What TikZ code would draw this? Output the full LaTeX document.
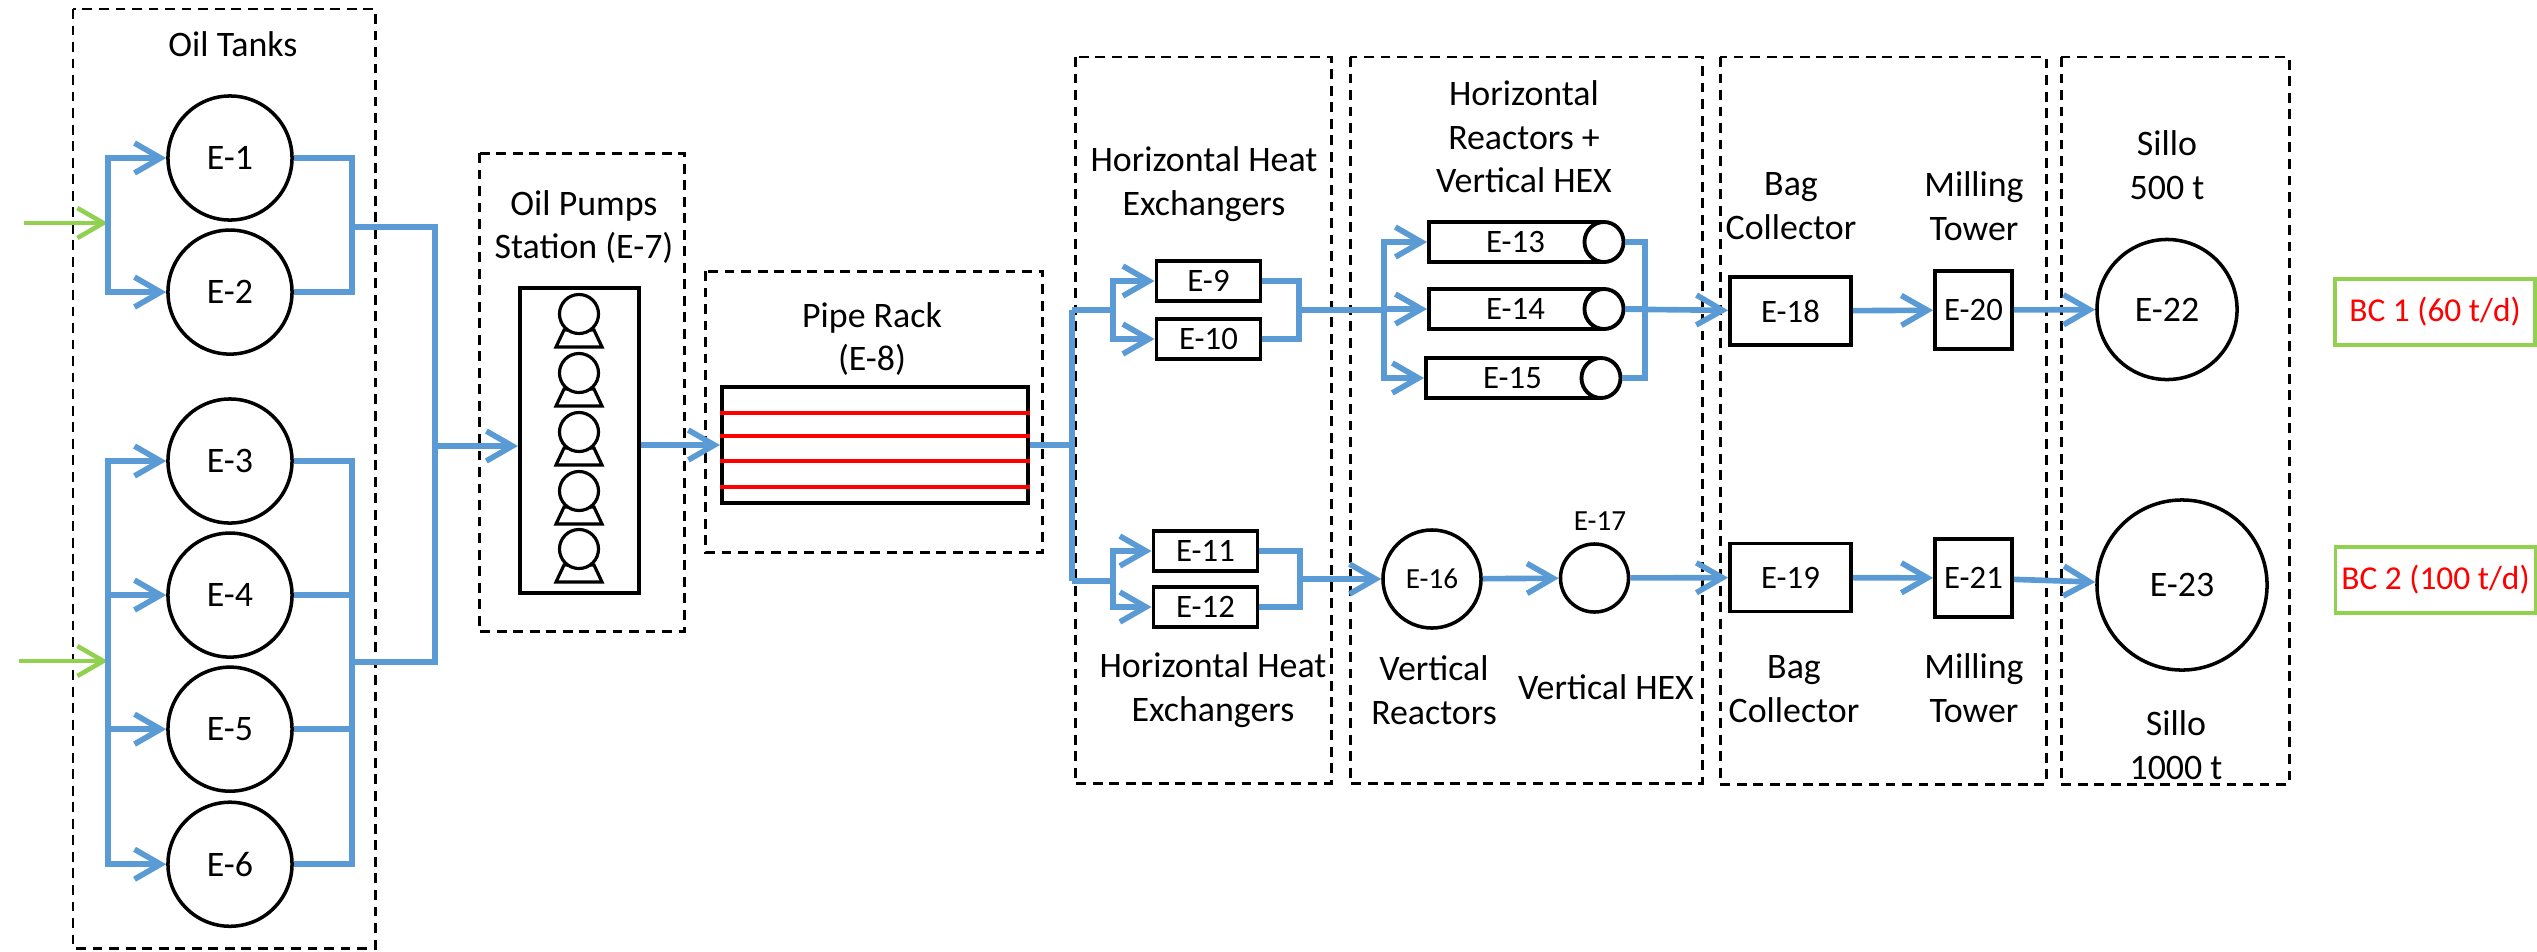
\documentclass[tikz,border=0pt]{standalone}
\usepackage{fontspec}
\setmainfont{Carlito}
\usetikzlibrary{arrows.meta,shapes.geometric}

\definecolor{pipeblue}{HTML}{5B9BD5}
\definecolor{feedgreen}{HTML}{92D050}

\tikzset{
  zone/.style={draw, line width=0.85pt, dash pattern=on 2.8pt off 1.9pt},
  pipe/.style={draw=pipeblue, line width=1.6pt},
  flow/.style={pipe, -{Straight Barb[length=7.4pt,width=8.5pt]}},
  feed/.style={draw=feedgreen, line width=1.3pt, -{Straight Barb[length=7.4pt,width=8.5pt]}},
  heading/.style={font=\fontsize{10.2}{12.4}\selectfont, align=center, inner sep=0pt},
  tank/.style={circle, draw, line width=1pt, fill=white, minimum size=1.24cm, inner sep=0pt, font=\fontsize{10.2}{12}\selectfont},
  unit/.style={rectangle, draw, line width=1.1pt, fill=white, inner sep=0pt, font=\fontsize{9.3}{11}\selectfont},
  hexbox/.style={unit, minimum width=1.04cm, minimum height=0.40cm},
  tube/.style={unit, minimum width=1.73cm, minimum height=0.40cm},
  tubecap/.style={ellipse, draw, line width=1.1pt, fill=white, minimum width=0.39cm, minimum height=0.40cm, inner sep=0pt},
  collector/.style={unit, minimum width=1.21cm, minimum height=0.68cm},
  mill/.style={unit, minimum width=0.77cm, minimum height=0.78cm},
  result/.style={rectangle, draw=feedgreen, line width=1pt, text=red, inner sep=0pt, minimum width=2cm, minimum height=0.66cm, font=\fontsize{9.5}{11}\selectfont},
}

\begin{document}
\begin{tikzpicture}[x=0.01cm, y=-0.01cm]
  \useasboundingbox (0,0) rectangle (2537,951);

  % dashed areas
  \draw [zone] (73,9) rectangle (375,948);
  \draw [zone] (479,153) rectangle (684,631);
  \draw [zone] (705,271) rectangle (1042,552);
  \draw [zone] (1075,57) rectangle (1331,783);
  \draw [zone] (1350,57) rectangle (1702,783);
  \draw [zone] (1720,57) rectangle (2046,784);
  \draw [zone] (2061,57) rectangle (2289,784);

  % oil tanks
  \node (e1) [tank] at (230,158) {E-1};
  \node (e2) [tank, below of=e1, node distance=1.34cm] {E-2};
  \node (e3) [tank] at (230,461) {E-3};
  \node (e4) [tank, below of=e3, node distance=1.34cm] {E-4};
  \node (e5) [tank, below of=e4, node distance=1.34cm] {E-5};
  \node (e6) [tank, below of=e5, node distance=1.35cm] {E-6};

  % pumps
  \node (pumps) [rectangle, draw, line width=1.1pt, minimum width=1.19cm, minimum height=3.05cm] at (579.5,440.5) {};
  \foreach \y [count=\i] in {314,373,432,491,549} {
    \draw [line width=0.9pt, shift={(579,\y)}] (-23,33) -- (23,33) -- (15,16) -- (-15,16) -- cycle;
    \node (pump\i) [circle, draw, line width=0.9pt, fill=white, minimum size=0.39cm, inner sep=0pt] at (579,\y) {};
  }

  % pipe rack
  \node (rack) [rectangle, draw, line width=1.1pt, minimum width=3.06cm, minimum height=1.16cm] at (875,445) {};
  \foreach \y in {413,436,461,487}
    \draw [red, line width=1pt] (rack.west |- 0,\y) -- (rack.east |- 0,\y);

  % heat exchangers and reactors
  \node (e9) [hexbox] at (1208.5,281) {E-9};
  \node (e10) [hexbox] at (1208.5,339) {E-10};
  \node (e11) [hexbox] at (1205.5,551) {E-11};
  \node (e12) [hexbox] at (1205.5,607) {E-12};
  \foreach \n/\xa/\y in {13/1515.5/242, 14/1515.5/309, 15/1512.5/378} {
    \node (e\n) [tube] at (\xa,\y) {E-\n};
    \node (cap\n) [tubecap] at (e\n.east) {};
  }
  \node (e16) [tank, minimum size=0.98cm, font=\fontsize{8.3}{10}\selectfont] at (1432,579) {E-16};
  \node (e17) [tank, minimum size=0.68cm] at (1594.5,578) {};
  \node (t17) [heading, font=\fontsize{8.3}{10}\selectfont] at (1600,521) {E-17};

  % collectors, towers and silos
  \node (e18) [collector] at (1790.5,311) {E-18};
  \node (e19) [collector] at (1790.5,577.5) {E-19};
  \node (e20) [mill] at (1973.5,310) {E-20};
  \node (e21) [mill] at (1973.5,578) {E-21};
  \node (e22) [tank, minimum size=1.40cm] at (2167,309.5) {E-22};
  \node (e23) [tank, minimum size=1.70cm] at (2182,585) {E-23};
  \node (bc1) [result] at (2435,312) {BC 1 (60 t/d)};
  \node (bc2) [result] at (2435.5,580) {BC 2 (100 t/d)};

  % headings
  \node (tTanks) [heading] at (233,44) {Oil Tanks};
  \node (tPumps) [heading] at (584,227) {Oil Pumps\\Station (E-7)};
  \node (tRack) [heading] at (872,339) {Pipe Rack\\(E-8)};
  \node (tHexTop) [heading] at (1204,184) {Horizontal Heat\\Exchangers};
  \node (tHexLow) [heading] at (1213,690) {Horizontal Heat\\Exchangers};
  \node (tHorz) [heading] at (1524,137) {Horizontal\\Reactors +\\Vertical HEX};
  \node (tVert) [heading] at (1434,690) {Vertical\\Reactors};
  \node (tVhex) [heading] at (1606,687) {Vertical HEX};
  \node (tBagTop) [heading] at (1791,206) {Bag\\Collector};
  \node (tBagLow) [heading] at (1794,689) {Bag\\Collector};
  \node (tMillTop) [heading] at (1974,206) {Milling\\Tower};
  \node (tMillLow) [heading] at (1974,688) {Milling\\Tower};
  \node (tSiloTop) [heading] at (2167,165) {Sillo\\500 t};
  \node (tSiloLow) [heading] at (2176,745) {Sillo\\1000 t};

  % junction points
  \coordinate (feedA) at (24,223);
  \coordinate (feedB) at (19,661);
  \coordinate (inA) at (108,223);
  \coordinate (inB) at (108,661);
  \coordinate (outA) at (352,227);
  \coordinate (outB) at (352,662);
  \coordinate (mainIn) at (435,446);
  \coordinate (rackOut) at (1072,445);
  \coordinate (busTop) at (1072,310);
  \coordinate (busLow) at (1072,581);
  \coordinate (splitTop) at (1113,310);
  \coordinate (splitLow) at (1113,581);
  \coordinate (mergeTop) at (1299,310);
  \coordinate (mergeLow) at (1300,579);
  \coordinate (splitTube) at (1384,310);
  \coordinate (mergeTube) at (1645,310);

  % oil tanks to pumps
  \draw [feed] (feedA) -- (inA);
  \draw [feed] (feedB) -- (inB);
  \foreach \n in {1,2} {
    \draw [flow] (inA) |- (e\n);
    \draw [pipe] (e\n) -| (outA);
  }
  \foreach \n in {3,...,6} {
    \draw [flow] (inB) |- (e\n);
    \draw [pipe] (e\n) -| (outB);
  }
  \draw [pipe] (outA) -| (mainIn);
  \draw [pipe] (outB) -| (mainIn);
  \draw [flow] (mainIn) -- (mainIn -| pumps.west);
  \draw [flow] (pumps.east |- rack.west) -- (rack.west);

  % rack to the two lines
  \draw [pipe] (rack.east) -- (rackOut);
  \draw [pipe] (busTop) -- (busLow);
  \draw [pipe] (busTop) -- (splitTop);
  \draw [pipe] (busLow) -- (splitLow);
  \foreach \n in {9,10} {
    \draw [flow] (splitTop) |- (e\n);
    \draw [pipe] (e\n) -| (mergeTop);
  }
  \foreach \n in {11,12} {
    \draw [flow] (splitLow) |- (e\n);
    \draw [pipe] (e\n) -| (mergeLow);
  }
  \draw [pipe] (mergeTop) -- (splitTube);
  \foreach \n in {13,14,15} {
    \draw [flow] (splitTube) |- (e\n);
    \draw [pipe] (cap\n) -| (mergeTube);
  }
  \draw [flow] (mergeLow) -- (e16);
  \draw [flow] (e16) -- (e17);
  \draw [flow] (cap14) -- (e18);
  \draw [flow] (e17) -- (e19);
  \draw [flow] (e18) -- (e20);
  \draw [flow] (e19) -- (e21);
  \draw [flow] (e20) -- (e22);
  \draw [flow] (e21) -- (e23);
\end{tikzpicture}
\end{document}
